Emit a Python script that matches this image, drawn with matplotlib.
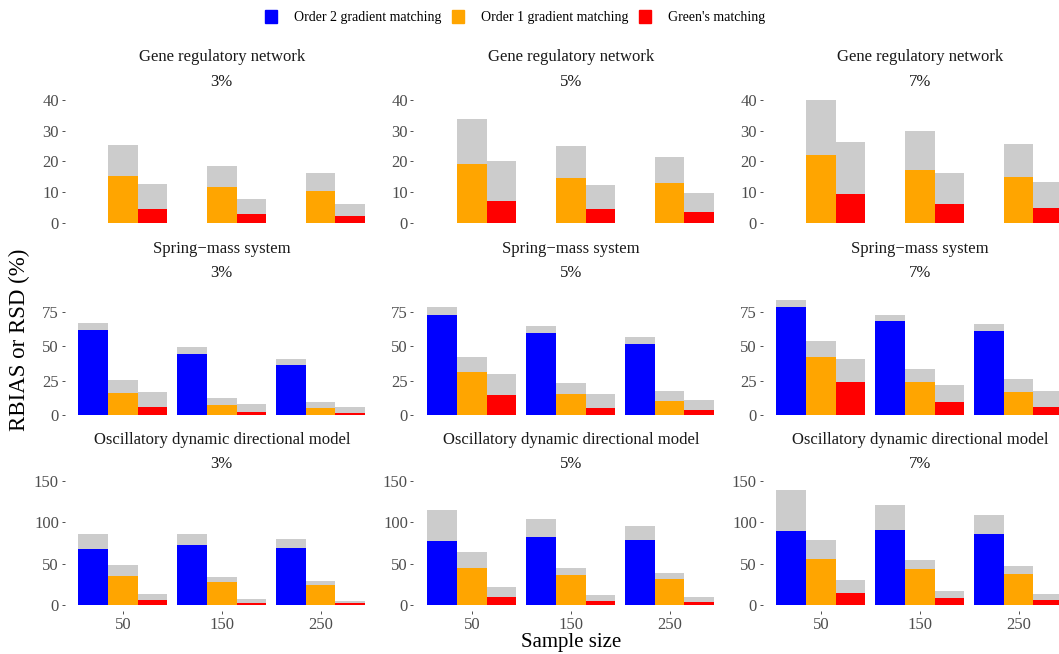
import matplotlib
matplotlib.use("Agg")
import matplotlib.pyplot as plt
import matplotlib.patches as mpatches
import numpy as np

plt.rcParams['font.family'] = ['Liberation Serif', 'DejaVu Serif']

# ---- data (rows: noise level 3%, 5%, 7%; cols: sample size 50, 150, 250) ----
sample_sizes = [50, 150, 250]
noise_levels = ["3%", "5%", "7%"]
models = ["Gene regulatory network", "Spring\u2212mass system",
          "Oscillatory dynamic directional model"]
methods = ["Order 2 gradient matching", "Order 1 gradient matching", "Green's matching"]
method_colors = ["#0000FF", "#FFA500", "#FF0000"]

# Gene regulatory network (no order 2 results)
grn_order2_rbias = [[np.nan] * 3] * 3
grn_order2_rsd = [[np.nan] * 3] * 3
grn_order1_rbias = [[15.3, 11.7, 10.4], [19.2, 14.7, 13.0], [22.1, 17.2, 14.9]]
grn_order1_rsd = [[25.4, 18.5, 16.2], [33.9, 25.1, 21.5], [40.1, 30.0, 25.7]]
grn_green_rbias = [[4.5, 2.8, 2.2], [7.1, 4.5, 3.5], [9.4, 6.1, 4.8]]
grn_green_rsd = [[12.6, 7.7, 6.1], [20.2, 12.3, 9.7], [26.4, 16.2, 13.3]]

# Spring-mass system
sms_order2_rbias = [[61.7, 44.3, 36.3], [72.6, 59.5, 51.5], [78.4, 68.2, 61.0]]
sms_order2_rsd = [[66.8, 49.4, 40.7], [78.4, 64.6, 56.6], [83.5, 72.6, 66.1]]
sms_order1_rbias = [[16.0, 7.3, 5.1], [31.2, 15.3, 10.2], [42.1, 24.0, 16.7]]
sms_order1_rsd = [[25.4, 12.3, 9.4], [42.1, 23.2, 17.4], [53.7, 33.4, 26.1]]
sms_green_rbias = [[5.8, 2.2, 1.5], [14.5, 5.1, 3.7], [24.0, 9.4, 5.8]]
sms_green_rsd = [[16.7, 7.8, 5.8], [29.7, 15.3, 10.9], [40.7, 21.8, 17.4]]

# Oscillatory dynamic directional model
odd_order2_rbias = [[67.9, 72.7, 69.1], [77.6, 82.5, 78.8], [89.6, 90.8, 86.0]]
odd_order2_rsd = [[86.0, 86.0, 80.0], [115.0, 104.0, 95.7], [139.0, 121.0, 109.0]]
odd_order1_rbias = [[35.3, 28.1, 24.5], [45.0, 36.6, 31.7], [55.8, 43.8, 37.8]]
odd_order1_rsd = [[48.6, 34.1, 29.3], [64.3, 45.0, 39.0], [78.8, 54.6, 47.4]]
odd_green_rbias = [[6.4, 2.8, 2.8], [10.0, 5.2, 4.0], [14.8, 8.8, 6.4]]
odd_green_rsd = [[13.6, 7.6, 5.2], [22.1, 12.4, 10.0], [30.5, 17.2, 13.6]]

model_data = [
    [(grn_order2_rbias, grn_order2_rsd), (grn_order1_rbias, grn_order1_rsd), (grn_green_rbias, grn_green_rsd)],
    [(sms_order2_rbias, sms_order2_rsd), (sms_order1_rbias, sms_order1_rsd), (sms_green_rbias, sms_green_rsd)],
    [(odd_order2_rbias, odd_order2_rsd), (odd_order1_rbias, odd_order1_rsd), (odd_green_rbias, odd_green_rsd)],
]

row_yticks = [[0, 10, 20, 30, 40], [0, 25, 50, 75], [0, 50, 100, 150]]

# ---- layout (pixels) ----
W, H = 1059, 654
fig = plt.figure(figsize=(W / 100, H / 100), dpi=100)

row_ylim = [(-2.05, 42.1), (-4.15, 87.2), (-7.0, 151.0)]
row_zero = [222.7, 415.0, 605.3]
row_ppu = [3.06, 1.377, 0.829]
row_strip_y = [(57, 82), (249, 273), (440, 464)]
col_left = [64.5, 413.5, 762.5]
xlim = (0.41, 3.59)
px_per_x = 98.9
panel_w = (xlim[1] - xlim[0]) * px_per_x

tick_col = '#4D4D4D'
width = 0.3
x = np.arange(1, len(sample_sizes) + 1)

for r in range(3):
    lo, hi = row_ylim[r]
    top = row_zero[r] - hi * row_ppu[r]
    height = (hi - lo) * row_ppu[r]
    for c in range(3):
        left = col_left[c]
        ax = fig.add_axes([left / W, 1 - (top + height) / H, panel_w / W, height / H])
        for m in range(3):
            rbias, rsd = model_data[r][m]
            pos = x + (m - 1) * width
            ax.bar(pos, rsd[c], width, color='#CCCCCC', linewidth=0)
            ax.bar(pos, rbias[c], width, color=method_colors[m], linewidth=0)
        ax.set_xlim(*xlim)
        ax.set_ylim(lo, hi)
        ax.set_yticks(row_yticks[r])
        ax.tick_params(axis='y', length=2.5, width=0.6, colors='#333333',
                       labelcolor=tick_col, labelsize=12, pad=1.5)
        ax.set_xticks(x)
        if r == 2:
            ax.set_xticklabels([str(s) for s in sample_sizes])
            ax.tick_params(axis='x', length=2.5, width=0.6, colors='#333333',
                           labelcolor=tick_col, labelsize=12, pad=2)
        else:
            ax.tick_params(axis='x', bottom=False, labelbottom=False)
        for s in ax.spines.values():
            s.set_visible(False)
        cx = (left + panel_w / 2) / W
        fig.text(cx, 1 - row_strip_y[r][0] / H, models[r], ha='center', va='center',
                 fontsize=12, color='#1A1A1A')
        fig.text(cx, 1 - row_strip_y[r][1] / H, noise_levels[c], ha='center', va='center',
                 fontsize=12, color='#1A1A1A')

fig.text(571 / W, 1 - 643 / H, 'Sample size', ha='center', va='center', fontsize=15)
fig.text(19 / W, 1 - 340 / H, 'RBIAS or RSD (%)', ha='center', va='center',
         rotation=90, fontsize=16.5)

handles = [mpatches.Patch(color=col, label=lab) for col, lab in zip(method_colors, methods)]
fig.legend(handles=handles, loc='center', bbox_to_anchor=(515 / W, 1 - 17 / H), ncol=3,
           frameon=False, fontsize=10, handlelength=0.9, handleheight=1.05,
           handletextpad=1.2, columnspacing=0.75, borderpad=0)

fig.savefig('out.png', dpi=100)
